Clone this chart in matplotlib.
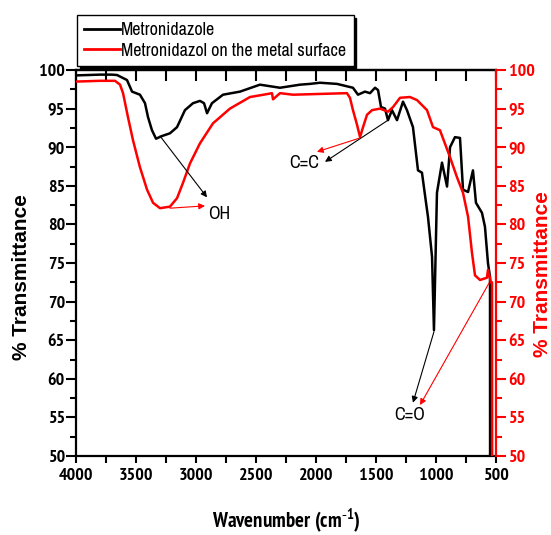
import matplotlib
matplotlib.use("Agg")
import matplotlib.pyplot as plt
from matplotlib import font_manager

names = {f.name for f in font_manager.fontManager.ttflist}
BOLDF = 'PT Sans Narrow' if 'PT Sans Narrow' in names else 'Liberation Sans'
REGF = 'Archivo Narrow' if 'Archivo Narrow' in names else 'Liberation Sans'
WIDE = 'Liberation Sans'

# ---- data ----
wn_metro = [4000, 3800, 3700, 3658, 3575, 3533, 3467, 3425, 3400, 3367, 3333, 3283, 3217,
            3158, 3092, 3025, 2967, 2933, 2908, 2867, 2775, 2633, 2467, 2300, 2133, 2050,
            1967, 1825, 1692, 1650, 1592, 1550, 1508, 1483, 1458, 1425, 1400, 1367, 1325,
            1275, 1242, 1192, 1150, 1117, 1083, 1067, 1033, 1017, 992, 950, 908, 883, 842,
            800, 775, 733, 692, 667, 617, 592, 567, 550, 549]
tr_metro = [99.3, 99.4, 99.4, 99.35, 98.7, 97.2, 96.8, 95.7, 93.9, 92.2, 91.1, 91.45, 91.8,
            92.6, 94.8, 95.7, 96.0, 95.7, 94.4, 95.7, 96.8, 97.2, 98.1, 97.7, 98.1, 98.2,
            98.35, 98.2, 97.7, 96.8, 97.2, 97.0, 97.7, 97.4, 95.2, 95.0, 93.5, 94.8, 93.5,
            95.9, 94.8, 92.6, 87.0, 86.7, 82.8, 81.0, 75.8, 66.3, 84.1, 88.0, 84.9, 90.0, 91.3,
            91.2, 84.5, 84.2, 87.0, 82.8, 81.5, 79.7, 75.0, 73.2, 40.0]

wn_surf = [4000, 3800, 3675, 3633, 3608, 3567, 3525, 3467, 3408, 3358, 3300, 3217, 3158,
           3108, 3050, 2967, 2858, 2717, 2550, 2400, 2367, 2358, 2300, 2192, 1742, 1717,
           1692, 1658, 1633, 1608, 1575, 1533, 1467, 1400, 1358, 1300, 1217, 1158, 1075,
           1025, 967, 883, 825, 775, 733, 700, 675, 633, 575, 567, 542, 533, 532]
tr_surf = [98.5, 98.6, 98.6, 98.1, 97.0, 93.9, 90.9, 87.4, 84.5, 82.8, 82.1, 82.3, 83.4,
           85.4, 87.9, 90.5, 93.1, 95.0, 96.5, 96.9, 97.0, 96.2, 97.0, 96.8, 97.0, 96.4,
           94.8, 92.9, 91.3, 92.6, 94.2, 94.8, 95.0, 94.6, 95.2, 96.4, 96.5, 96.1, 94.8,
           92.6, 92.2, 88.7, 86.1, 84.1, 81.0, 76.3, 73.4, 72.8, 73.1, 74.1, 72.5, 72.5, 40.0]

labels = ['Metronidazole', 'Metronidazol on the metal surface']
xticks = [4000, 3500, 3000, 2500, 2000, 1500, 1000, 500]
xminor = [3750, 3250, 2750, 2250, 1750, 1250, 750]
yticks = [50, 55, 60, 65, 70, 75, 80, 85, 90, 95, 100]
yminor = [52.5, 57.5, 62.5, 67.5, 72.5, 77.5, 82.5, 87.5, 92.5, 97.5]

# annotation anchor points (wavenumber, %T)
oh_text = (2808, 81.3)
oh_black = ((3300, 91.45), (2908, 83.5))
oh_red = ((3217, 82.1), (2925, 82.4))
cc_text = (2100, 88.0)
cc_red = ((1633, 91.2), (1992, 89.4))
cc_black = ((1400, 93.5), (1925, 88.1))
co_text = (1217, 55.3)
co_black = ((1017, 66.1), (1192, 56.9))
co_red = ((558, 72.4), (1133, 56.6))

# ---- figure ----
W, H = 551, 535
fig = plt.figure(figsize=(W / 100, H / 100), dpi=100)
L, R, T, B = 76, 496, 70, 456
ax = fig.add_axes([L / W, 1 - B / H, (R - L) / W, (B - T) / H])

ax.plot(wn_metro, tr_metro, color='black', lw=1.8, label=labels[0], zorder=3)
ax.plot(wn_surf, tr_surf, color='red', lw=1.8, label=labels[1], zorder=3)
ax.set_xlim(4000, 500)
ax.set_ylim(50, 100)

tick_font = dict(family=BOLDF, weight='bold', size=13)
ax.set_xticks(xticks)
ax.set_xticks(xminor, minor=True)
ax.set_yticks(yticks)
ax.set_yticks(yminor, minor=True)
ax.set_xticklabels([str(v) for v in xticks], fontdict=tick_font)
ax.set_yticklabels([str(v) for v in yticks], fontdict=tick_font)
ax.tick_params(axis='x', which='both', direction='out', length=5, width=1.5, pad=4)
ax.tick_params(axis='y', which='major', direction='out', length=7, width=1.5, pad=1)
ax.tick_params(axis='y', which='minor', direction='out', length=4, width=1.5)
ax.tick_params(axis='y', right=False)
for s in ['left', 'bottom', 'top']:
    ax.spines[s].set_linewidth(1.6)
ax.spines['right'].set_visible(False)

# top axis with inward ticks
top = ax.secondary_xaxis('top')
top.set_xticks(xticks + xminor)
top.set_xticklabels([])
top.tick_params(direction='in', length=8, width=1.5)
top.spines['top'].set_linewidth(1.6)

# right red axis
ax2 = ax.twinx()
ax2.set_ylim(50, 100)
ax2.set_yticks(yticks)
ax2.set_yticks(yminor, minor=True)
ax2.set_yticklabels([str(v) for v in yticks], fontdict=dict(tick_font, color='red'))
ax2.tick_params(axis='y', which='major', direction='out', length=7, width=1.5, color='red', pad=2)
ax2.tick_params(axis='y', which='minor', direction='out', length=4, width=1.5, color='red')
ax2.spines['right'].set_color('red')
ax2.spines['right'].set_linewidth(1.6)
for s in ['left', 'top', 'bottom']:
    ax2.spines[s].set_visible(False)

# axis labels
ax.set_xlabel('Wavenumber (cm$^{\\mathregular{\u2010}\\mathregular{1}}$)', fontfamily=BOLDF,
              fontweight='bold', fontsize=15, labelpad=16)
fig.text(22 / W, 1 - 277 / H, '% Transmittance', rotation=90, ha='center', va='center',
         fontfamily=WIDE, fontweight='bold', fontsize=15)
fig.text(542 / W, 1 - 274 / H, '% Transmittance', rotation=90, ha='center', va='center',
         fontfamily=WIDE, fontweight='bold', fontsize=15, color='red')

# annotations
ann_font = dict(family=REGF, size=13)
def arrow(pts, color):
    ax.annotate('', xy=pts[1], xytext=pts[0],
                arrowprops=dict(arrowstyle='-|>', color=color, lw=0.8, mutation_scale=9,
                                shrinkA=0, shrinkB=0), zorder=4)
ax.text(*oh_text, 'OH', ha='center', va='center', fontdict=ann_font)
ax.text(*cc_text, 'C=C', ha='center', va='center', fontdict=ann_font)
ax.text(*co_text, 'C=O', ha='center', va='center', fontdict=ann_font)
arrow(oh_black, 'black'); arrow(oh_red, 'red')
arrow(cc_black, 'black'); arrow(cc_red, 'red')
arrow(co_black, 'black'); arrow(co_red, 'red')

# legend
leg = ax.legend(loc='upper left', bbox_to_anchor=(77 / W, 1 - 15 / H),
                bbox_transform=fig.transFigure, borderaxespad=0,
                prop=dict(family=REGF, size=13), frameon=True, fancybox=False,
                shadow={'color': 'black', 'alpha': 1}, handlelength=2.0, handletextpad=0.05,
                labelspacing=0.25, borderpad=0.4)
leg.get_frame().set_edgecolor('black')
leg.get_frame().set_linewidth(1.0)
for line in leg.get_lines():
    line.set_linewidth(2.0)
leg.set_zorder(10)

fig.savefig('out.png', dpi=100)
